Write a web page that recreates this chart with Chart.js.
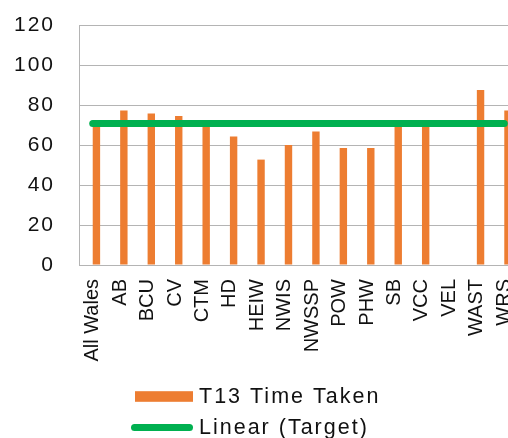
<!DOCTYPE html>
<html>
<head>
<meta charset="utf-8">
<script src="https://cdn.jsdelivr.net/npm/chart.js@4/dist/chart.umd.min.js"></script>
<style>
  html, body { margin: 0; padding: 0; background: #ffffff; }
  #wrap { width: 508px; height: 438px; overflow: hidden; position: relative; }
  canvas { display: block; }
</style>
</head>
<body>
<div id="wrap"><canvas id="chart" width="520" height="438"></canvas></div>
<script>
// Organisations along the category axis
const categories = ['All Wales', 'AB', 'BCU', 'CV', 'CTM', 'HD', 'HEIW', 'NWIS',
  'NWSSP', 'POW', 'PHW', 'SB', 'VCC', 'VEL', 'WAST', 'WRS'];

// T13 time taken (days) per organisation; VEL has no value
const timeTaken = [70, 77.2, 75.8, 74.5, 70, 64.3, 52.7, 60, 66.7, 58.5, 58.5, 70, 70, null, 87.5, 77.2];

// Target series: it keeps its own slot in each category group but has no bars
const targetBars = [null, null, null, null, null, null, null, null, null, null, null, null, null, null, null, null];

// Linear trend of the target
const targetTrend = [70.8, 70.8, 70.8, 70.8, 70.8, 70.8, 70.8, 70.8, 70.8, 70.8, 70.8, 70.8, 70.8, 70.8, 70.8, 70.8];

// Value axis ticks
const yTicks = [0, 20, 40, 60, 80, 100, 120];

const ORANGE = '#ED7D31';
const GREEN = '#00B050';
const GRID = '#b4b4b4';
const TEXT = '#111111';
const FONT = "'Liberation Sans', Arial, sans-serif";

Chart.defaults.font.family = FONT;
Chart.defaults.color = TEXT;

// Two-row legend drawn under the category labels
const stackedLegend = {
  id: 'stackedLegend',
  beforeDraw(chart) {
    // wider letter spacing for the value-axis numbers
    const s = chart.scales.y;
    if (!s._spaced) {
      const base = s.drawLabels;
      s.drawLabels = function (area) {
        this.ctx.save();
        this.ctx.letterSpacing = '2px';
        base.call(this, area);
        this.ctx.restore();
      };
      s._spaced = true;
    }
  },
  afterDraw(chart, args, opts) {
    const ctx = chart.ctx;
    const items = chart.data.datasets.filter(d => d.legendRow !== undefined);
    ctx.save();
    ctx.font = opts.fontSize + 'px ' + FONT;
    ctx.letterSpacing = '2px';
    ctx.textBaseline = 'middle';
    ctx.textAlign = 'left';
    items.forEach(d => {
      const y = opts.top + d.legendRow * opts.rowGap;
      if (d.type === 'line') {
        ctx.strokeStyle = d.borderColor;
        ctx.lineWidth = d.borderWidth;
        ctx.lineCap = 'round';
        ctx.beginPath();
        ctx.moveTo(opts.left + 3.5, y);
        ctx.lineTo(opts.left + opts.keyWidth - 3.5, y);
        ctx.stroke();
      } else {
        ctx.fillStyle = d.backgroundColor;
        ctx.fillRect(opts.left + 4, y - 5.3, opts.keyWidth - 4, 10.6);
      }
      ctx.fillStyle = TEXT;
      ctx.fillText(d.label, opts.textX, y + 0.5);
    });
    ctx.restore();
  }
};

new Chart(document.getElementById('chart'), {
  type: 'bar',
  data: {
    labels: categories,
    datasets: [
      {
        type: 'line',
        label: 'Linear (Target)',
        data: targetTrend,
        borderColor: GREEN,
        backgroundColor: GREEN,
        borderWidth: 7,
        borderCapStyle: 'round',
        pointRadius: 0,
        fill: false,
        order: 0,
        legendRow: 1
      },
      {
        label: 'Target',
        data: targetBars,
        backgroundColor: 'rgba(0,0,0,0)',
        order: 1
      },
      {
        label: 'T13 Time Taken',
        data: timeTaken,
        backgroundColor: ORANGE,
        borderWidth: 0,
        order: 1,
        legendRow: 0
      }
    ]
  },
  options: {
    responsive: false,
    animation: false,
    devicePixelRatio: 1,
    categoryPercentage: 0.54,
    barPercentage: 1.0,
    layout: { padding: { top: 25, right: 2, bottom: 63, left: 0 } },
    plugins: {
      legend: { display: false },
      tooltip: { enabled: false },
      stackedLegend: { left: 131, keyWidth: 62, textX: 199, top: 396.5, rowGap: 31, fontSize: 21.5 }
    },
    scales: {
      x: {
        offset: true,
        grid: { display: false, drawTicks: false },
        border: { display: true, color: GRID, width: 1 },
        ticks: {
          autoSkip: false,
          minRotation: 90,
          maxRotation: 90,
          padding: 14,
          color: TEXT,
          font: { size: 20 }
        },
        afterFit(scale) {
          scale.height = 110;
          scale.paddingLeft = 0;
          scale.paddingRight = 0;
        }
      },
      y: {
        min: 0,
        max: 120,
        afterBuildTicks(scale) { scale.ticks = yTicks.map(v => ({ value: v })); },
        grid: { color: GRID, lineWidth: 1, drawTicks: false },
        border: { display: true, color: GRID, width: 1 },
        ticks: { padding: 24, color: TEXT, font: { size: 21 } },
        afterFit(scale) {
          scale.width = 79;
          scale.paddingTop = 0;
          scale.paddingBottom = 0;
        }
      }
    }
  },
  plugins: [stackedLegend]
});
</script>
</body>
</html>
